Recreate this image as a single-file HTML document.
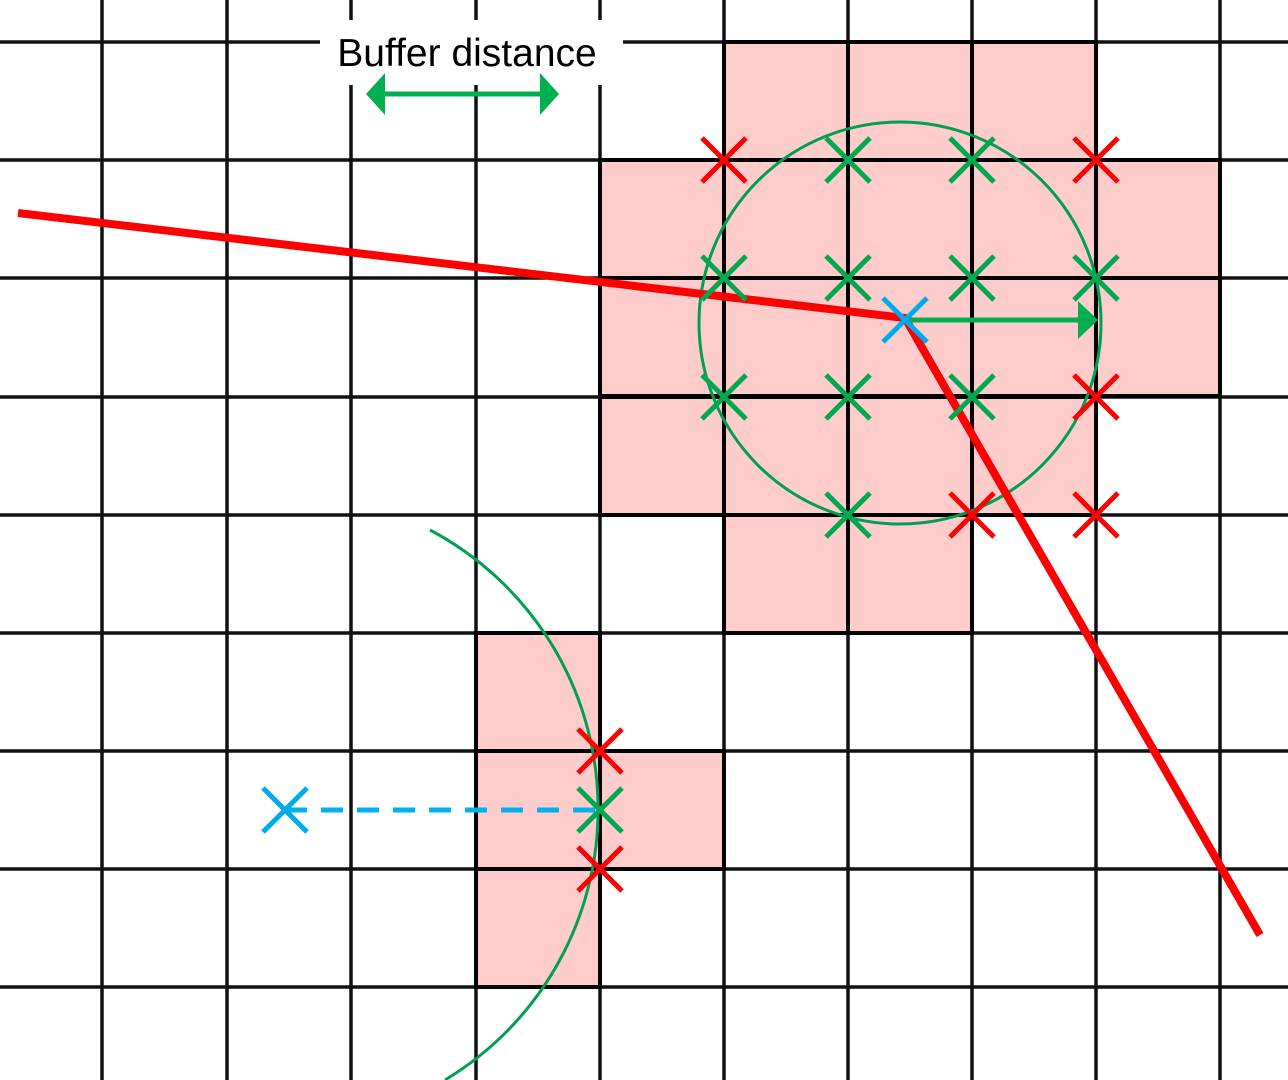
<!DOCTYPE html>
<html><head><meta charset="utf-8"><style>
html,body{margin:0;padding:0;background:#fff;}
svg{display:block;}
</style></head><body>
<svg id="chart" width="1288" height="1080" viewBox="0 0 1288 1080" xmlns="http://www.w3.org/2000/svg">
<g id="cells"></g>
<g id="grid"></g>
<g id="cellborders"></g>
<g id="shapes"></g>
<g id="marks"></g>
<g>
<rect x="320" y="20" width="303" height="65" fill="#fff"/>
<text x="467" y="66" font-family="Liberation Sans, sans-serif" font-size="39" text-anchor="middle" fill="#000">Buffer distance</text>
<line x1="380" y1="94" x2="545" y2="94" stroke="#00b050" stroke-width="5"/>
<polygon points="366,94 385,73 385,115" fill="#00b050"/>
<polygon points="559,94 540,73 540,115" fill="#00b050"/>
</g>
</svg>
<script>
const colLines=[102,227,351,476,600,724,848,972,1096,1220];
const rowLines=[42,160,278,397,515,633,751,869,987];
// pink cells: [colIndex(left line), rowIndex(top line)]
const pinkCells=[[5,0],[6,0],[7,0],[4,1],[5,1],[6,1],[7,1],[8,1],[4,2],[5,2],[6,2],[7,2],[8,2],[4,3],[5,3],[6,3],[7,3],[5,4],[6,4],[3,5],[3,6],[4,6],[3,7]];
const greenPts=[[848,160],[972,160],[724,278],[848,278],[972,278],[1096,278],[724,397],[848,397],[972,397],[848,515],[600,810]];
const redPts=[[724,160],[1096,160],[1096,397],[972,515],[1096,515],[600,751],[600,869]];
const bluePts=[[905,320],[285,810]];
const redLine=[[18,213],[905,318],[1260,935]];
const NS='http://www.w3.org/2000/svg';
function mk(tag,attrs,parent){const e=document.createElementNS(NS,tag);for(const k in attrs)e.setAttribute(k,attrs[k]);document.getElementById(parent).appendChild(e);return e;}
const cw=124,ch=118;
pinkCells.forEach(c=>{
 const x=colLines[c[0]],y=rowLines[c[1]];
 const r=mk('rect',{x:x,y:y,width:cw,height:ch,fill:'#ffcccc'},'cells');
 
 
 const b=mk('rect',{x:x,y:y,width:cw,height:ch,fill:'none',stroke:'#000','stroke-width':4},'cellborders');
 
 
});
colLines.forEach(x=>{const l=mk('line',{x1:x,y1:0,x2:x,y2:1080,stroke:'#111','stroke-width':3.5},'grid');
 
 });
rowLines.forEach(y=>{const l=mk('line',{x1:0,y1:y,x2:1288,y2:y,stroke:'#111','stroke-width':3.5},'grid');
 
 });
const c1=mk('circle',{cx:900,cy:323,r:201,fill:'none',stroke:'#00a050','stroke-width':3},'shapes');


const a=mk('path',{d:'M430,530 A316,316 0 0 1 445,1080',fill:'none',stroke:'#00a050','stroke-width':3},'shapes');


const rl=mk('polyline',{points:redLine.map(p=>p.join(',')).join(' '),fill:'none',stroke:'#ff0000','stroke-width':8,'stroke-linejoin':'round'},'shapes');


const dl=mk('line',{x1:bluePts[1][0],y1:bluePts[1][1],x2:600,y2:bluePts[1][1],stroke:'#00b0f0','stroke-width':5,'stroke-dasharray':'22,14'},'shapes');


const ar=mk('line',{x1:bluePts[0][0],y1:bluePts[0][1],x2:1078,y2:bluePts[0][1],stroke:'#00b050','stroke-width':5},'shapes');


const ah=mk('polygon',{points:'1098,320 1078,301 1078,339',fill:'#00b050'},'shapes');


function cross(p,color,name,s,w){
 const g=mk('g',{stroke:color,'stroke-width':w},'marks');
 
 
 const l1=document.createElementNS(NS,'line');l1.setAttribute('x1',p[0]-s);l1.setAttribute('y1',p[1]-s);l1.setAttribute('x2',p[0]+s);l1.setAttribute('y2',p[1]+s);g.appendChild(l1);
 const l2=document.createElementNS(NS,'line');l2.setAttribute('x1',p[0]-s);l2.setAttribute('y1',p[1]+s);l2.setAttribute('x2',p[0]+s);l2.setAttribute('y2',p[1]-s);g.appendChild(l2);
}
greenPts.forEach(p=>cross(p,'#00a84f','green-cross',22,5));
redPts.forEach(p=>cross(p,'#ff0000','red-cross',22,5));
bluePts.forEach(p=>cross(p,'#00aaee','blue-cross',22,5));
</script>
</body></html>
